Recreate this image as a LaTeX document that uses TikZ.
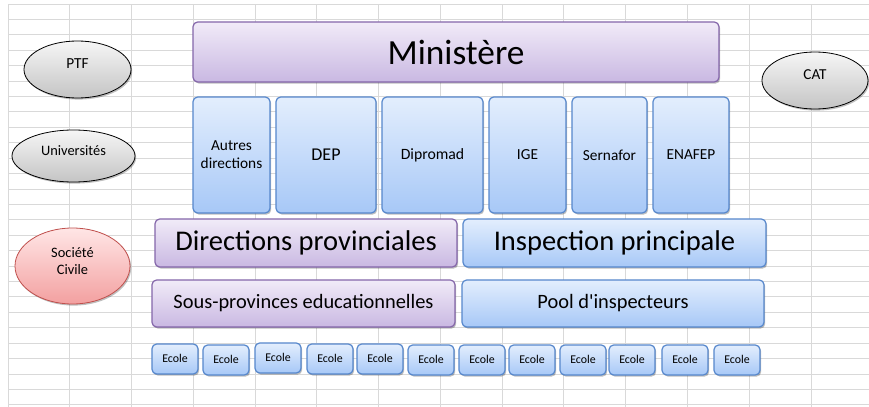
\documentclass[tikz,border=0pt]{standalone}
\usepackage{fontspec}
\setmainfont{Carlito}
\usetikzlibrary{shapes.geometric,shadows}
\definecolor{gridc}{HTML}{D9D9D9}
\definecolor{ptop}{HTML}{F1EBF8}
\definecolor{pbot}{HTML}{C9B8E2}
\definecolor{pline}{HTML}{8466AA}
\definecolor{btop}{HTML}{E3EEFD}
\definecolor{bbot}{HTML}{A7C8F7}
\definecolor{bline}{HTML}{5687CC}
\definecolor{gtop}{HTML}{F6F6F6}
\definecolor{gbot}{HTML}{C4C4C4}
\definecolor{rtop}{HTML}{FFE6E6}
\definecolor{rbot}{HTML}{F3A0A0}
\definecolor{rline}{HTML}{C0504D}
\tikzset{
  shad/.style={drop shadow={shadow xshift=0.9pt, shadow yshift=-1.2pt, opacity=0.25, fill=black}},
  pbox/.style={draw=pline, line width=0.9pt, rounded corners=3.5pt, top color=ptop, bottom color=pbot, inner sep=0pt, outer sep=0pt, shad},
  bbox/.style={draw=bline, line width=0.9pt, rounded corners=3.5pt, top color=btop, bottom color=bbot, inner sep=0pt, outer sep=0pt, shad, align=center},
  ell/.style={ellipse, draw=black, line width=0.6pt, top color=gtop, bottom color=gbot, inner sep=0pt, outer sep=0pt, shad},
  rell/.style={ellipse, draw=rline, line width=0.6pt, top color=rtop, bottom color=rbot, inner sep=0pt, outer sep=0pt, shad},
  lbl/.style={inner sep=0pt, align=center, text=black},
}
\newcommand{\boxat}[7]{%
  \pgfmathsetmacro{\bw}{(#5-#3)*0.75}%
  \pgfmathsetmacro{\bh}{(#6-#4)*0.75}%
  \node[#2, minimum width=\bw pt, minimum height=\bh pt] (#1) at ({(#3+#5)/2},{(#4+#6)/2}) {#7};}
\begin{document}
\begin{tikzpicture}[x=0.75pt,y=-0.75pt]
\useasboundingbox (0,0) rectangle (869,407);
\fill[white] (0,0) rectangle (869,407);
% spreadsheet grid
\foreach \i in {0,...,26} {
  \draw[gridc, line width=0.75pt] (8,{4+15.42*\i}) -- (869,{4+15.42*\i});
}
\foreach \i in {0,...,13} {
  \draw[gridc, line width=0.75pt] ({8+61.77*\i},4) -- ({8+61.77*\i},407);
}
% ministere
\boxat{min}{pbox, font=\fontsize{26.5}{30}\selectfont}{193}{22}{719}{82}{Ministère}
% directions
\boxat{autres}{bbox, font=\fontsize{11.5}{13.5}\selectfont}{193}{97}{270}{213}{Autres\\directions}
\boxat{dep}{bbox, font=\fontsize{13.5}{16}\selectfont}{276}{97}{376}{213}{DEP}
\boxat{dipromad}{bbox, font=\fontsize{11.8}{14}\selectfont}{382}{97}{483}{213}{Dipromad}
\boxat{ige}{bbox, font=\fontsize{11.5}{14}\selectfont}{489}{97}{566}{213}{IGE}
\boxat{sernafor}{bbox, font=\fontsize{11.5}{14}\selectfont}{572}{97}{647}{213}{Sernafor}
\boxat{enafep}{bbox, font=\fontsize{11.5}{14}\selectfont}{653}{97}{729}{213}{ENAFEP}
% provincial level
\boxat{dirprov}{pbox, font=\fontsize{21.4}{24}\selectfont}{155}{219}{457}{267}{Directions provinciales}
\boxat{insp}{bbox, font=\fontsize{21.4}{24}\selectfont}{463}{219}{766}{267}{Inspection principale}
\boxat{sousprov}{pbox, font=\fontsize{15.3}{18}\selectfont}{152}{280}{455}{327}{Sous-provinces educationnelles}
\boxat{pool}{bbox, font=\fontsize{15.3}{18}\selectfont}{462}{280}{764}{327}{Pool d\textquotesingle inspecteurs}
% ecoles
\foreach \xx/\yy [count=\k] in {152/344,203/345,255/343,307/344,357/344,408/345,459/345,509/345,560/345,609/345,662/345,714/345} {
  \pgfmathsetmacro{\xe}{\xx+46}
  \pgfmathsetmacro{\ye}{\yy+30}
  \boxat{ecole\k}{bbox, font=\fontsize{8.9}{10}\selectfont}{\xx}{\yy}{\xe}{\ye}{\raisebox{1.5pt}{Ecole}}
}
% partners
\node[ell, minimum width=80.25pt, minimum height=42.75pt] (ptf) at (77.5,69.5) {};
\node[lbl, font=\fontsize{11.5}{13}\selectfont] (ptft) at (77.5,64) {PTF};
\node[ell, minimum width=92.25pt, minimum height=39pt] (univ) at (73.5,156) {};
\node[lbl, font=\fontsize{10.8}{13}\selectfont] (univt) at (73.5,151) {Universités};
\node[rell, minimum width=86.25pt, minimum height=57pt] (soc) at (72.5,266) {};
\node[lbl, font=\fontsize{10.8}{12.5}\selectfont] (soct) at (72.5,261) {Société\\Civile};
\node[ell, minimum width=79.5pt, minimum height=42.75pt] (cat) at (815,80.5) {};
\node[lbl, font=\fontsize{11.4}{13}\selectfont] (catt) at (815,75) {CAT};
\end{tikzpicture}
\end{document}
